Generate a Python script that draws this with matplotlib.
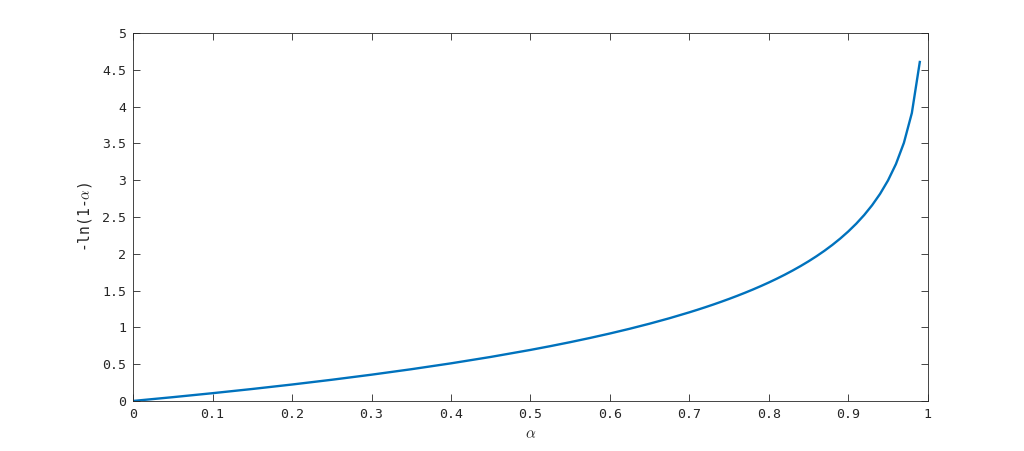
import matplotlib
matplotlib.use("Agg")
import matplotlib.pyplot as plt

# values
alpha = [0, 0.05, 0.10, 0.15, 0.20, 0.25, 0.30, 0.35, 0.40, 0.45, 0.50,
         0.525, 0.55, 0.575, 0.60, 0.625, 0.65, 0.675, 0.70,
         0.71, 0.72, 0.73, 0.74, 0.75, 0.76, 0.77, 0.78, 0.79, 0.80,
         0.81, 0.82, 0.83, 0.84, 0.85, 0.86, 0.87, 0.88, 0.89,
         0.90, 0.91, 0.92, 0.93, 0.94, 0.95, 0.96, 0.97, 0.98, 0.99]
neg_log = [0, 0.0513, 0.1054, 0.1625, 0.2231, 0.2877, 0.3567, 0.4308,
           0.5108, 0.5978, 0.6931,
           0.7444, 0.7985, 0.8557, 0.9163, 0.9808, 1.0498, 1.1239, 1.2040,
           1.2379, 1.2730, 1.3093, 1.3471, 1.3863, 1.4271, 1.4697, 1.5141,
           1.5606, 1.6094, 1.6607, 1.7148, 1.7720, 1.8326, 1.8971,
           1.9661, 2.0402, 2.1203, 2.2073, 2.3026, 2.4079,
           2.5257, 2.6593, 2.8134, 2.9957, 3.2189, 3.5066, 3.9120, 4.6052]
xticks = [0, 0.1, 0.2, 0.3, 0.4, 0.5, 0.6, 0.7, 0.8, 0.9, 1]
xticklabels = ["0", "0.1", "0.2", "0.3", "0.4", "0.5", "0.6", "0.7", "0.8", "0.9", "1"]
yticks = [0, 0.5, 1, 1.5, 2, 2.5, 3, 3.5, 4, 4.5, 5]
yticklabels = ["0", "0.5", "1", "1.5", "2", "2.5", "3", "3.5", "4", "4.5", "5"]

plt.rcParams['font.family'] = 'DejaVu Sans Mono'
plt.rcParams['mathtext.fontset'] = 'cm'

axcol = '#262626'
fig = plt.figure(figsize=(10.24, 4.51), dpi=100)
ax = fig.add_axes([0.130, 0.111, 0.776, 0.816])
ax.plot(alpha, neg_log, color='#0072BD', linewidth=1.7)

ax.set_xlim(0, 1)
ax.set_ylim(0, 5)
ax.set_xticks(xticks)
ax.set_xticklabels(xticklabels)
ax.set_yticks(yticks)
ax.set_yticklabels(yticklabels)
ax.tick_params(direction='in', length=5, width=0.6, colors=axcol,
               labelsize=9.5, top=True, right=True, pad=5)
for s in ax.spines.values():
    s.set_color(axcol)
    s.set_linewidth(0.6)

ax.set_xlabel(r"$\alpha$", fontsize=11, color=axcol, labelpad=4)
ax.set_ylabel(r"-ln(1-$\alpha$)", fontsize=10.5, color=axcol, labelpad=6)

fig.savefig("out.png", dpi=100)
